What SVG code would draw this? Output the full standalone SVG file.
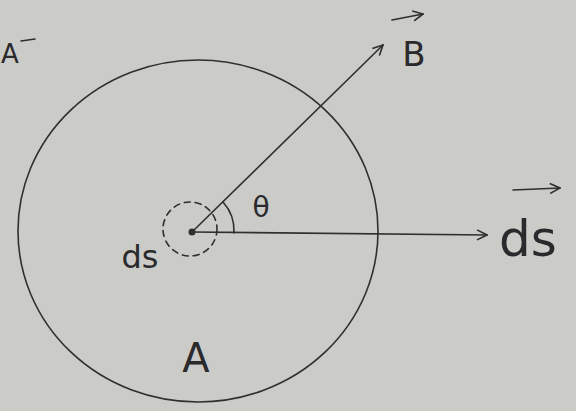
<svg xmlns="http://www.w3.org/2000/svg" width="576" height="411" viewBox="0 0 576 411">
<defs>
<style>
.ln{stroke:#2f2f30;stroke-width:1.6;fill:none;stroke-linecap:round}
.tx{font-family:"DejaVu Sans","Liberation Sans",sans-serif;fill:#2a2a2c}
</style>
<marker id="ah" viewBox="0 0 12 12" refX="11" refY="6" markerWidth="12" markerHeight="12" markerUnits="userSpaceOnUse" orient="auto">
<path d="M1,1 L11,6 L1,11" fill="none" stroke="#2f2f30" stroke-width="1.6"/>
</marker>
</defs>
<rect width="576" height="411" fill="#cbcbc8"/>
<g id="areaA">
<ellipse class="ln" cx="198" cy="231" rx="180" ry="171"/>
<text class="tx" x="196" y="372" font-size="40" text-anchor="middle">A</text>
</g>
<g id="ds-element">
<circle cx="190" cy="229" r="27" class="ln" stroke-dasharray="6 5"/>
<circle cx="192" cy="232" r="3.5" fill="#2f2f30"/>
<text class="tx" x="140" y="268" font-size="32" text-anchor="middle">ds</text>
</g>
<g id="connectors">
<line class="ln" x1="192" y1="232" x2="383" y2="45" marker-end="url(#ah)"/>
<line class="ln" x1="192" y1="232" x2="487" y2="235" marker-end="url(#ah)"/>
<path class="ln" d="M223,202 A43,43 0 0 1 234,233"/>
</g>
<g id="theta">
<text class="tx" x="261" y="217" font-size="28" text-anchor="middle">θ</text>
</g>
<g id="B">
<text class="tx" x="414" y="66" font-size="34" text-anchor="middle">B</text>
<line class="ln" x1="392" y1="20" x2="423" y2="14" marker-end="url(#ah)"/>
</g>
<g id="dsVec">
<text class="tx" x="528" y="256" font-size="50" text-anchor="middle">ds</text>
<line class="ln" x1="513" y1="190" x2="560" y2="188" marker-end="url(#ah)"/>
</g>
<g id="Avec">
<text class="tx" x="1" y="63" font-size="26">A</text>
<line class="ln" x1="21" y1="41" x2="35" y2="39"/>
</g>
</svg>
